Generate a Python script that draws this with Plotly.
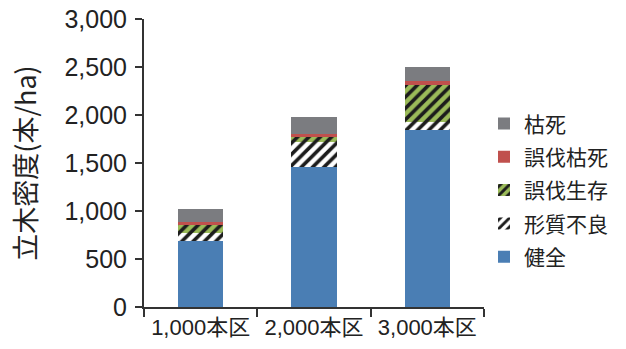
import plotly.graph_objects as go

# 立木密度の内訳（本/ha）
categories = ["1,000本区", "2,000本区", "3,000本区"]
healthy = [690, 1460, 1840]          # 健全
poor_form = [80, 260, 85]            # 形質不良
cut_alive = [85, 50, 385]            # 誤伐生存
cut_dead = [35, 35, 40]              # 誤伐枯死
dead = [135, 175, 155]               # 枯死

y_ticks = [0, 500, 1000, 1500, 2000, 2500, 3000]

FONT = "Liberation Sans, Arial, Noto Sans CJK JP, sans-serif"
CJK = "Noto Sans CJK JP, sans-serif"
STRIPE = "#1c1c1c"

fig = go.Figure()

# (name, values, colour, hatch, legend rank) — stacked bottom to top
series = [
    ("健全", healthy, "#4A7EB4", None, 5),
    ("形質不良", poor_form, "#FFFFFF", "/", 4),
    ("誤伐生存", cut_alive, "#9BBB59", "/", 3),
    ("誤伐枯死", cut_dead, "#C0504D", None, 2),
    ("枯死", dead, "#7B7C80", None, 1),
]

for name, vals, color, shape, rank in series:
    marker = dict(color=color, line=dict(width=0))
    if shape:
        marker["pattern"] = dict(shape=shape, fgcolor=STRIPE, bgcolor=color,
                                 size=8, solidity=0.45, fillmode="replace")
    fig.add_trace(go.Bar(x=categories, y=vals, name=name, marker=marker,
                         legendgroup=name, legendrank=rank))

fig.update_layout(
    barmode="stack",
    bargap=0.6,
    width=626, height=349,
    margin=dict(l=144, r=142, t=19, b=42),
    paper_bgcolor="white",
    plot_bgcolor="white",
    font=dict(family=FONT, color="#222222"),
    showlegend=True,
    legend=dict(
        x=1.0, xanchor="left", y=0.405, yanchor="middle",
        traceorder="grouped",
        tracegroupgap=3,
        font=dict(size=21, family=CJK, color="#222222"),
        bgcolor="rgba(0,0,0,0)",
    ),
    xaxis=dict(
        type="category",
        automargin=False,
        showline=True, linecolor="#333333", linewidth=2,
        ticks="outside", tickson="boundaries", ticklen=8, tickwidth=2,
        tickcolor="#333333",
        tickfont=dict(size=22, family=FONT, color="#222222"),
        showgrid=False,
    ),
    yaxis=dict(
        range=[0, 3000],
        automargin=False,
        tickvals=y_ticks,
        tickformat=",d",
        showline=True, linecolor="#333333", linewidth=2,
        ticks="outside", ticklen=7, tickwidth=2, tickcolor="#333333",
        ticklabelstandoff=3,
        tickfont=dict(size=25, family=FONT, color="#222222"),
        showgrid=False, zeroline=False,
        title=dict(text="立木密度(本/ha)", standoff=20,
                   font=dict(size=27, family=CJK, color="#222222")),
    ),
)

fig.write_html("out.html")
